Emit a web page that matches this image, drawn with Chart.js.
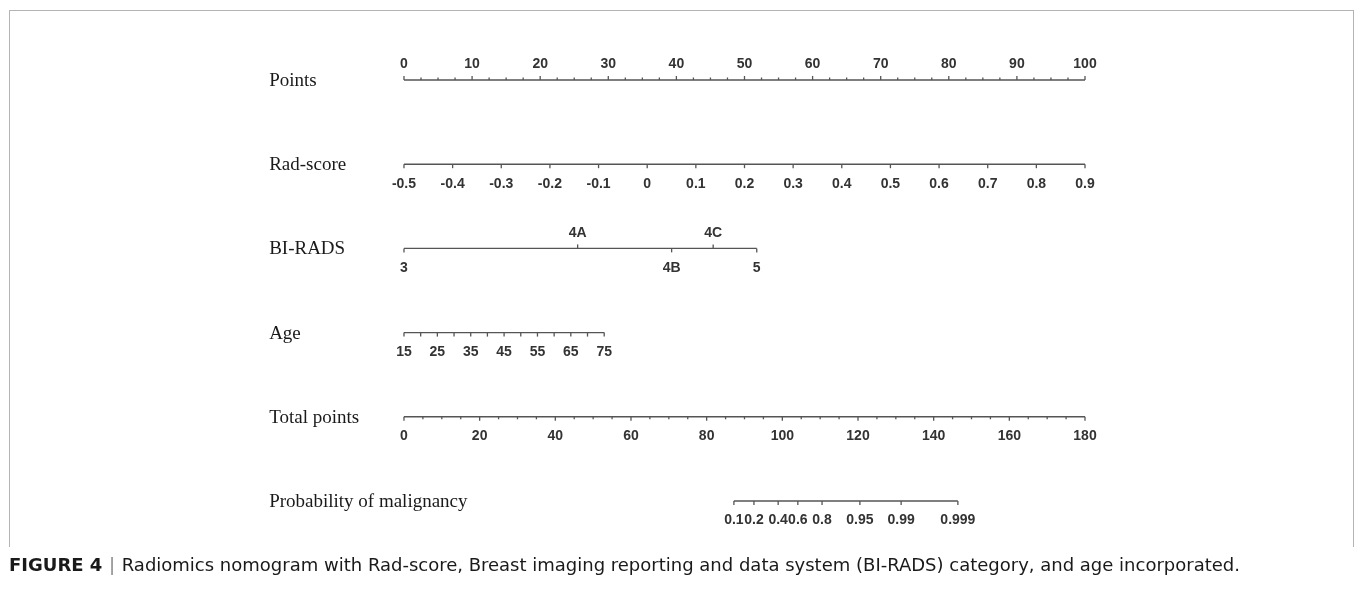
<!DOCTYPE html>
<html>
<head>
<meta charset="utf-8">
<script src="https://cdn.jsdelivr.net/npm/chart.js@4.4.0/dist/chart.umd.min.js"></script>
<style>
html,body{margin:0;padding:0;background:#fff;}
#wrap{position:relative;width:1357px;height:591px;overflow:hidden;}
#myChart{position:absolute;left:0;top:0;}
#frame{position:absolute;left:9px;top:10px;width:1343px;height:536px;border:1.5px solid #b4b4b4;border-bottom:none;}
#caption{position:absolute;left:9px;top:554px;white-space:nowrap;font-family:"Liberation Sans Narrow","DejaVu Sans Condensed","Liberation Sans",Arial,sans-serif;font-size:18px;color:#1a1a1a;transform-origin:0 0;}
#caption b{font-weight:bold;}
#caption .bar{color:#888;margin:0 6px;}
</style>
</head>
<body>
<div id="wrap">
<div id="frame"></div>
<canvas id="myChart" width="1357" height="591"></canvas>
<div id="caption"><b>FIGURE 4</b><span class="bar">|</span>Radiomics nomogram with Rad-score, Breast imaging reporting and data system (BI-RADS) category, and age incorporated.</div>
</div>
<script>
// row names top to bottom
const rowNames = ['Points', 'Rad-score', 'BI-RADS', 'Age', 'Total points', 'Probability of malignancy'];

// Points row (0..100)
const pointsLabels = [0, 10, 20, 30, 40, 50, 60, 70, 80, 90, 100];
const pointsMinorStep = 2.5;

// Rad-score row, spans the full 0..100 points
const radLabels = ['-0.5', '-0.4', '-0.3', '-0.2', '-0.1', '0', '0.1', '0.2', '0.3', '0.4', '0.5', '0.6', '0.7', '0.8', '0.9'];

// BI-RADS row
const biradsCats = ['3', '4A', '4B', '4C', '5'];
const biradsPoints = [0, 25.5, 39.3, 45.4, 51.8];
const biradsSide = ['down', 'up', 'down', 'up', 'down'];

// Age row
const ageTicks = [15, 20, 25, 30, 35, 40, 45, 50, 55, 60, 65, 70, 75];
const ageLabels = [15, 25, 35, 45, 55, 65, 75];
const agePointsRange = [0, 29.4];

// Total points row (0..180 over the points width)
const totalLabels = [0, 20, 40, 60, 80, 100, 120, 140, 160, 180];
const totalMinorStep = 5;

// Probability row, positions in total points
const probLabels = ['0.1', '0.2', '0.4', '0.6', '0.8', '0.95', '0.99', '0.999'];
const probTotal = [87.2, 92.5, 98.9, 104.1, 110.5, 120.5, 131.4, 146.4];

const lineColor = '#555555';
const textColor = '#333333';
const tickFont = 'bold 14px "Liberation Sans", Arial, sans-serif';
const nameFont = '19px "Liberation Serif", "Times New Roman", serif';
const nameX = -19.8; // in points units

function totalToPts(t) { return t / 180 * 100; }

// tick lists per row: {pos, label, side, len}
var rows = [];
var r0 = [];
for (var v = 0; v <= 100.001; v += pointsMinorStep) {
  var isMajor = pointsLabels.indexOf(Math.round(v * 10) / 10) >= 0;
  r0.push({pos: v, label: isMajor ? String(Math.round(v)) : null, side: 'up', len: isMajor ? 4 : 2.5});
}
rows.push(r0);

var r1 = [];
for (var i = 0; i < radLabels.length; i++) {
  r1.push({pos: i / (radLabels.length - 1) * 100, label: radLabels[i], side: 'down', len: 4});
}
rows.push(r1);

var r2 = [];
for (var i = 0; i < biradsCats.length; i++) {
  r2.push({pos: biradsPoints[i], label: biradsCats[i], side: biradsSide[i], len: 4});
}
rows.push(r2);

var r3 = [];
for (var i = 0; i < ageTicks.length; i++) {
  var a = ageTicks[i];
  var p = agePointsRange[0] + (a - ageTicks[0]) / (ageTicks[ageTicks.length - 1] - ageTicks[0]) * (agePointsRange[1] - agePointsRange[0]);
  r3.push({pos: p, label: ageLabels.indexOf(a) >= 0 ? String(a) : null, side: 'down', len: 4});
}
rows.push(r3);

var r4 = [];
for (var t = 0; t <= 180; t += totalMinorStep) {
  var maj = totalLabels.indexOf(t) >= 0;
  r4.push({pos: totalToPts(t), label: maj ? String(t) : null, side: 'down', len: maj ? 4 : 2.5});
}
rows.push(r4);

var r5 = [];
for (var i = 0; i < probLabels.length; i++) {
  r5.push({pos: totalToPts(probTotal[i]), label: probLabels[i], side: 'down', len: 4});
}
rows.push(r5);

// axis line datasets
var datasets = [];
for (var i = 0; i < rows.length; i++) {
  var ps = rows[i].map(function (d) { return d.pos; });
  datasets.push({
    data: [{x: Math.min.apply(null, ps), y: i}, {x: Math.max.apply(null, ps), y: i}],
    borderColor: lineColor,
    borderWidth: 1.4,
    pointRadius: 0,
    fill: false
  });
}

const nomoPlugin = {
  id: 'nomo',
  afterDatasetsDraw(chart) {
    var ctx = chart.ctx;
    var xs = chart.scales.x, ys = chart.scales.y;
    ctx.save();
    ctx.strokeStyle = lineColor;
    ctx.lineWidth = 1.3;
    ctx.fillStyle = textColor;
    ctx.textBaseline = 'middle';
    for (var i = 0; i < rows.length; i++) {
      var y0 = ys.getPixelForValue(i);
      ctx.textAlign = 'center';
      rows[i].forEach(function (d) {
        var x = xs.getPixelForValue(d.pos);
        var dir = d.side === 'up' ? -1 : 1;
        ctx.beginPath();
        ctx.moveTo(x, y0);
        ctx.lineTo(x, y0 + dir * d.len);
        ctx.stroke();
        if (d.label !== null) {
          ctx.font = tickFont;
          ctx.fillText(d.label, x, y0 + (dir > 0 ? 19.5 : -15.5));
        }
      });
      ctx.font = nameFont;
      ctx.textAlign = 'left';
      ctx.fillStyle = '#1a1a1a';
      ctx.fillText(rowNames[i], xs.getPixelForValue(nameX), y0 + 1);
      ctx.fillStyle = textColor;
    }
    ctx.restore();
  }
};

new Chart(document.getElementById('myChart'), {
  type: 'line',
  data: {datasets: datasets},
  options: {
    responsive: false,
    animation: false,
    layout: {padding: 0},
    plugins: {legend: {display: false}, tooltip: {enabled: false}},
    scales: {
      x: {type: 'linear', min: -59.32, max: 139.94, display: false},
      y: {type: 'linear', min: -0.950, max: 6.069, reverse: true, display: false}
    }
  },
  plugins: [nomoPlugin]
});

// stretch the caption to the width it has in the figure
var cap = document.getElementById('caption');
var w = cap.getBoundingClientRect().width;
cap.style.transform = 'scaleX(' + (1231 / w) + ')';
</script>
</body>
</html>
